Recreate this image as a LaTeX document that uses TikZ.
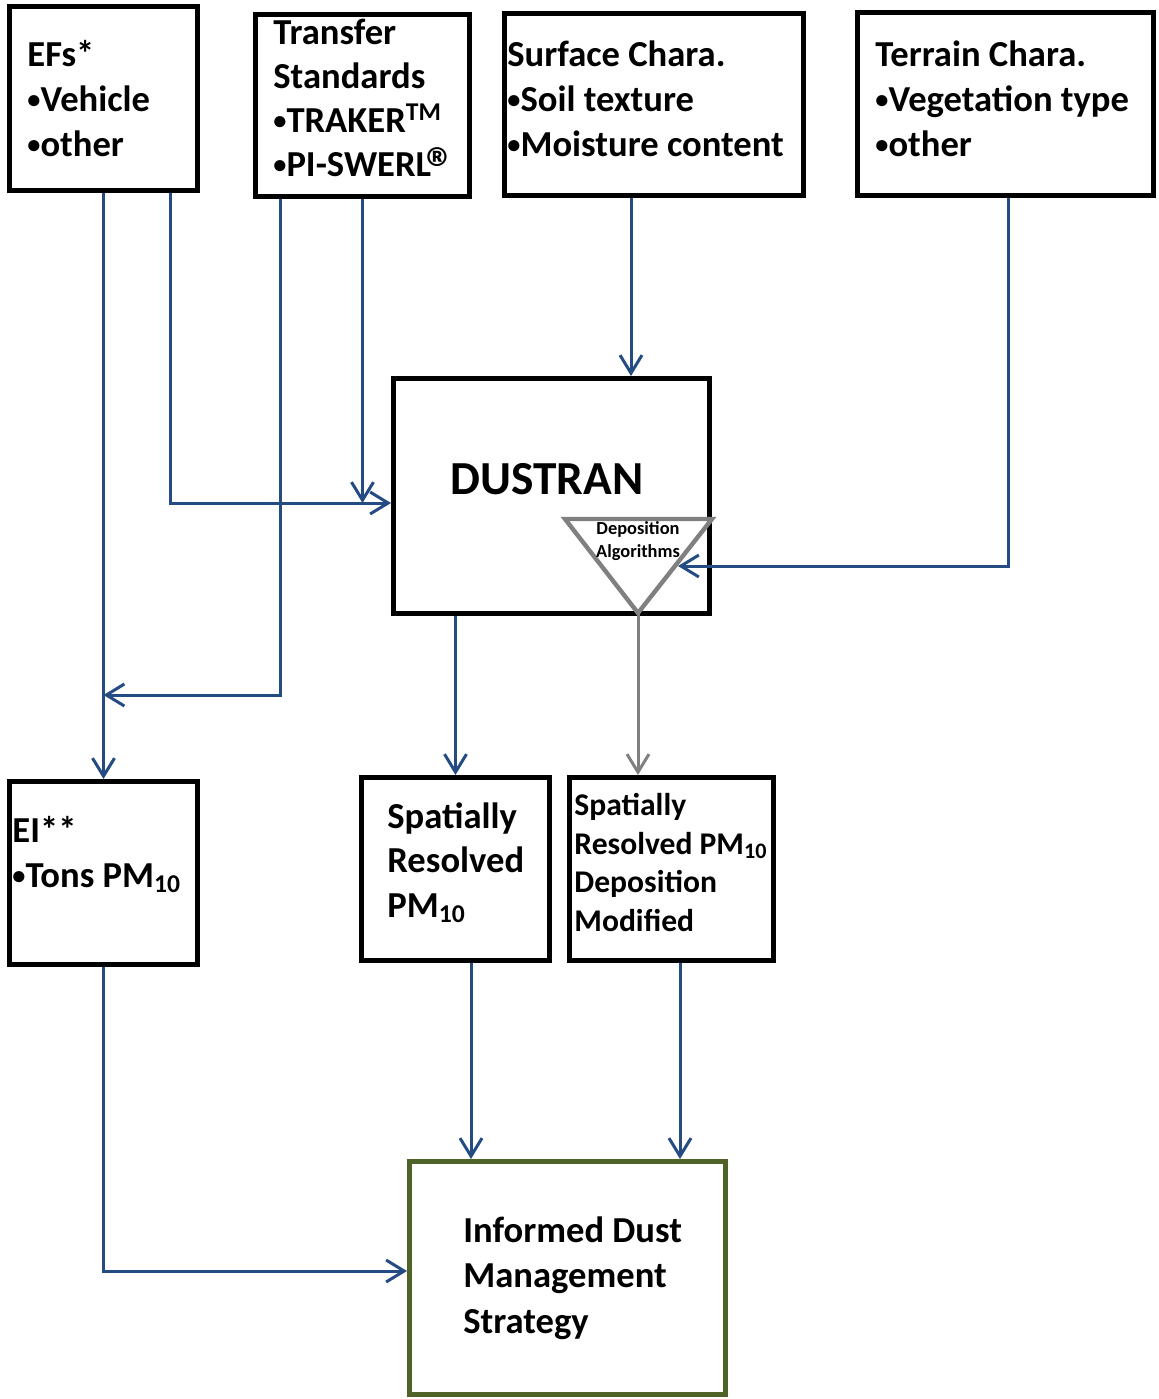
\documentclass[tikz,border=0pt]{standalone}
\usepackage{fontspec}
\setmainfont{Carlito}
\usepackage{tikz}
\usetikzlibrary{positioning, calc, arrows.meta}
\definecolor{flowblue}{RGB}{36, 76, 130}
\definecolor{algogray}{RGB}{128, 128, 128}
\definecolor{olivegreen}{RGB}{79, 98, 40}
\newcommand{\bul}{\raisebox{0.08em}{\scalebox{0.72}{•}}}

\tikzset{
    box/.style={draw=black, line width=2.5pt, rectangle, inner sep=0pt},
    boxtext/.style={anchor=north west, inner sep=0pt, align=left,
                    font=\bfseries\fontsize{18.3}{22.5}\selectfont},
    flow/.style={draw=flowblue, line width=1.5pt, -{Straight Barb[length=9pt, width=11pt]}},
    algoflow/.style={draw=algogray, line width=1.5pt, -{Straight Barb[length=9pt, width=11pt]}},
    algo/.style={draw=algogray, line width=2.2pt, line join=miter}
}

\begin{document}
\begin{tikzpicture}[x=0.5pt, y=-0.5pt]
    \useasboundingbox (0,0) rectangle (1159,1399);

    % input boxes
    \node[box, minimum width=94pt, minimum height=92pt] (efs) at (103.5,98.5) {};
    \node[box, minimum width=107pt, minimum height=91pt] (transfer) at (362.5,105.5) {};
    \node[box, minimum width=149.5pt, minimum height=91pt] (surface) at (654,104.5) {};
    \node[box, minimum width=148pt, minimum height=91.5pt] (terrain) at (1005.5,104) {};

    \node[boxtext] (efstext) at (27,40) {EFs*\\\bul Vehicle\\\bul other};
    \node[boxtext, font=\bfseries\fontsize{18.3}{22}\selectfont] (transfertext) at (273,19)
        {Transfer\\Standards\\\bul TRAKER\textsuperscript{TM}\\\bul PI-SWERL\kern-0.12em\raisebox{-0.32em}{\scalebox{1.6}{®}}};
    \node[boxtext] (surfacetext) at (507,40) {Surface Chara.\\\bul Soil texture\\\bul Moisture content};
    \node[boxtext] (terraintext) at (875,40) {Terrain Chara.\\\bul Vegetation type\\\bul other};

    % model
    \node[box, minimum width=158pt, minimum height=117.5pt] (dustran) at (551.5,496) {};
    \node[font=\bfseries\fontsize{23.7}{28}\selectfont, inner sep=0pt] (dustrantext) at (547,479) {DUSTRAN};
    \coordinate (algl) at (565,519);
    \coordinate (algr) at (712,519);
    \coordinate (algtip) at (638,613);
    \coordinate (algside) at (678,566);
    \draw[algo] (algl) -- (algr) -- (algtip) -- cycle;
    \node[align=center, inner sep=0pt, font=\bfseries\fontsize{9.2}{11.5}\selectfont] (algtext) at (638,541)
        {Deposition\\Algorithms};

    % outputs
    \node[box, minimum width=94pt, minimum height=91.5pt] (ei) at (103.5,873) {};
    \node[box, minimum width=94pt, minimum height=91.5pt] (spatial) at (455.5,869) {};
    \node[box, minimum width=102pt, minimum height=91.5pt] (depo) at (671.5,869) {};
    \node[box, draw=olivegreen, minimum width=158pt, minimum height=116.5pt] (informed) at (567.5,1278) {};

    \node[boxtext] (eitext) at (12,816) {EI**\\\bul Tons PM\textsubscript{10}};
    \node[boxtext, font=\bfseries\fontsize{18.3}{22.25}\selectfont] (spatialtext) at (387,802)
        {Spatially\\Resolved\\PM\textsubscript{10}};
    \node[boxtext, font=\bfseries\fontsize{15.8}{19.25}\selectfont] (depotext) at (574,793)
        {Spatially\\Resolved PM\textsubscript{10}\\Deposition\\Modified};
    \node[boxtext, font=\bfseries\fontsize{18.3}{22.75}\selectfont] (informedtext) at (463,1216)
        {Informed Dust\\Management\\Strategy};

    % connectors
    \coordinate (efsright) at ([xshift=33.25pt]efs.south);
    \coordinate (dustranin) at ([yshift=-3.5pt]dustran.west);
    \coordinate (transferleft) at ([xshift=-41.25pt]transfer.south);
    \coordinate (merge) at (103.5,695);
    \coordinate (surfacein) at ([xshift=-11.5pt]surface.south);
    \coordinate (terrainout) at ([xshift=1.25pt]terrain.south);
    \coordinate (spatialout) at ([xshift=7.75pt]spatial.south);
    \coordinate (depoout) at ([xshift=4.25pt]depo.south);

    \draw[flow] (efs.south) -- (ei.north);
    \draw[flow] (efsright) |- (dustranin);
    \draw[flow] (transfer.south) -- (transfer.south |- dustranin);
    \draw[flow] (transferleft) |- (merge);
    \draw[flow] (surfacein) -- (surfacein |- dustran.north);
    \draw[flow] (terrainout) |- (algside);
    \draw[flow] (spatial.north |- dustran.south) -- (spatial.north);
    \draw[algoflow] (algtip) -- (algtip |- depo.north);
    \draw[flow] (spatialout) -- (spatialout |- informed.north);
    \draw[flow] (depoout) -- (depoout |- informed.north);
    \draw[flow] (ei.south) |- ([yshift=3.5pt]informed.west);
\end{tikzpicture}
\end{document}
